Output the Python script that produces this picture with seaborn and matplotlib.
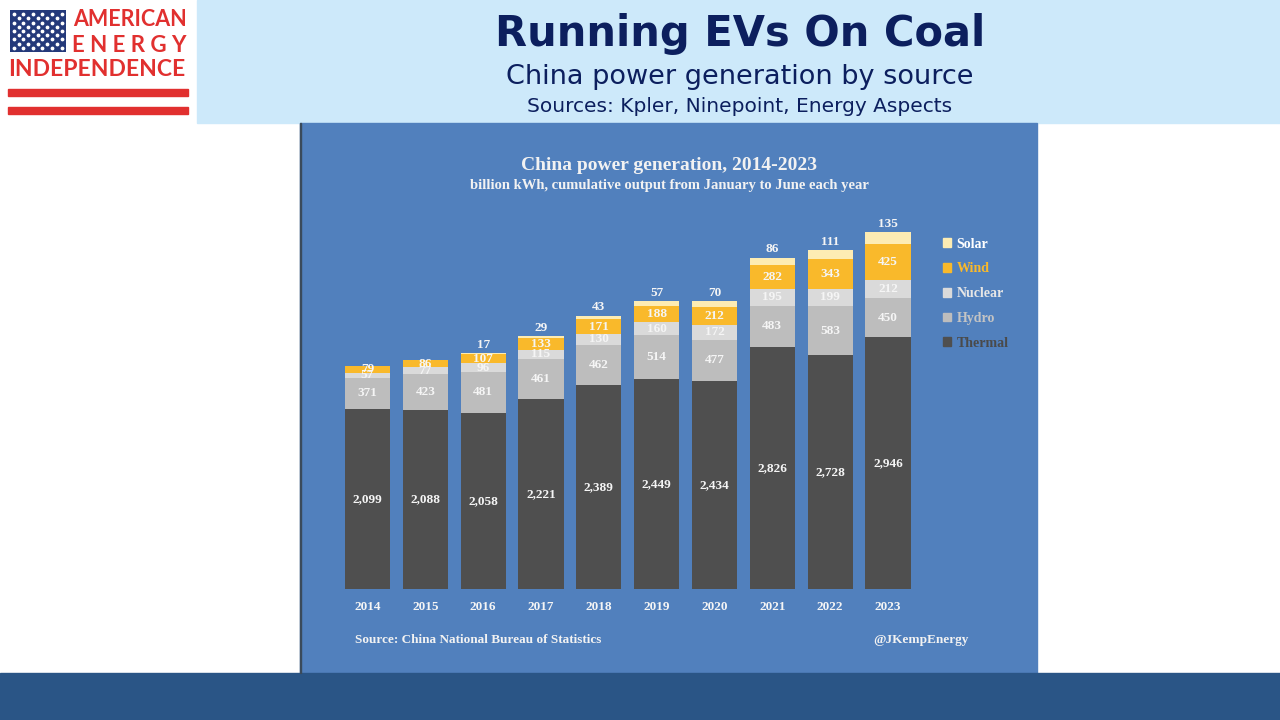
import numpy as np
import pandas as pd
import seaborn as sns
import matplotlib.pyplot as plt
from matplotlib.patches import Rectangle, Patch

# China power generation, Jan-Jun each year, billion kWh
years = ["2014", "2015", "2016", "2017", "2018", "2019", "2020", "2021", "2022", "2023"]
thermal = [2099, 2088, 2058, 2221, 2389, 2449, 2434, 2826, 2728, 2946]
hydro = [371, 423, 481, 461, 462, 514, 477, 483, 583, 450]
nuclear = [57, 77, 96, 115, 130, 160, 172, 195, 199, 212]
wind = [79, 86, 107, 133, 171, 188, 212, 282, 343, 425]
solar = [0, 0, 17, 29, 43, 57, 70, 86, 111, 135]

sources = ["Thermal", "Hydro", "Nuclear", "Wind", "Solar"]
colors = {"Thermal": "#4f4f4f", "Hydro": "#bdbdbd", "Nuclear": "#dadada",
          "Wind": "#f9b92b", "Solar": "#fdecb3"}
text_colors = {"Thermal": "#4a4a4a", "Hydro": "#c4c4c4", "Nuclear": "#e6e6e6",
               "Wind": "#f9b92b", "Solar": "#ffffff"}

df = pd.DataFrame({"year": years, "Thermal": thermal, "Hydro": hydro,
                   "Nuclear": nuclear, "Wind": wind, "Solar": solar})
cum = df[sources].cumsum(axis=1)
cum["year"] = years

W, H = 1280, 720
fig = plt.figure(figsize=(12.8, 7.2), dpi=100)
fig.patch.set_facecolor("white")

def px(x, y, w, h):
    return [x / W, 1 - (y + h) / H, w / W, h / H]

# header band, chart panel, footer band (behind the axes)
fig.patches.append(Rectangle((197 / W, 1 - 123 / H), (W - 197) / W, 123 / H,
                             transform=fig.transFigure, color="#cde9fa", zorder=-2))
fig.patches.append(Rectangle((300 / W, 1 - 673 / H), 737 / W, 550 / H,
                             transform=fig.transFigure, color="#5180bd", zorder=-2))
fig.patches.append(Rectangle((299.5 / W, 1 - 673 / H), 1.2 / W, 550 / H,
                             transform=fig.transFigure, color="#3a4a5a", zorder=-1))
fig.patches.append(Rectangle((0, 0), 1, 47 / H,
                             transform=fig.transFigure, color="#2a5586", zorder=-2))

# header text
fig.text(740 / W, 1 - 34 / H, "Running EVs On Coal", ha="center", va="center",
         fontsize=30, fontweight="bold", color="#0c1f5e", family="DejaVu Sans")
fig.text(740 / W, 1 - 77 / H, "China power generation by source", ha="center", va="center",
         fontsize=19.5, color="#0c1f5e", family="DejaVu Sans")
fig.text(740 / W, 1 - 106 / H, "Sources: Kpler, Ninepoint, Energy Aspects", ha="center",
         va="center", fontsize=14.5, color="#0c1f5e", family="DejaVu Sans")

# logo
flag = fig.add_axes(px(10, 10, 56, 42))
flag.set_facecolor("#24397a")
gx, gy = np.meshgrid(np.arange(6), np.arange(5))
flag.scatter(gx.ravel() * 0.17 + 0.07, gy.ravel() * 0.2 + 0.1, s=3, color="white")
flag.scatter(gx[:4, :5].ravel() * 0.17 + 0.155, gy[:4, :5].ravel() * 0.2 + 0.2, s=3, color="white")
flag.set_xlim(0, 1)
flag.set_ylim(0, 1)
flag.set_xticks([])
flag.set_yticks([])
for s in flag.spines.values():
    s.set_visible(False)
red = "#e1302f"
fig.text(187 / W, 1 - 20 / H, "AMERICAN", ha="right", va="center", fontsize=15.5,
         fontweight="bold", color=red, family="Lato")
fig.text(187 / W, 1 - 45 / H, "E N E R G Y", ha="right", va="center", fontsize=16,
         fontweight="bold", color=red, family="Lato")
fig.text(8 / W, 1 - 70 / H, "INDEPENDENCE", ha="left", va="center", fontsize=16.5,
         fontweight="bold", color=red, family="Lato")
fig.patches.append(Rectangle((8 / W, 1 - 96 / H), 180 / W, 7 / H,
                             transform=fig.transFigure, color=red))
fig.patches.append(Rectangle((8 / W, 1 - 114 / H), 180 / W, 7 / H,
                             transform=fig.transFigure, color=red))

# chart axes
ax = fig.add_axes(px(300, 123, 737, 466))
ax.set_facecolor("none")
for name in reversed(sources):
    sns.barplot(data=cum, x="year", y=name, color=colors[name], width=0.78,
                saturation=1, errorbar=None, linewidth=0, ax=ax)

serif = "Liberation Serif"
label_col = "#f5f5f5"
for i in range(len(years)):
    base = 0
    for name in sources:
        v = df[name][i]
        if name == "Solar":
            if v > 0:
                ax.text(i, cum["Solar"][i] + 25, str(v), ha="center", va="bottom",
                        fontsize=9.5, fontweight="bold", color=label_col, family=serif)
        else:
            ax.text(i, base + v / 2, f"{v:,}", ha="center", va="center",
                    fontsize=9.5, fontweight="bold", color=label_col, family=serif)
        base += v

ax.set_xlim(-1.167, 11.577)
ax.set_ylim(0, 466 / 0.0856)
ax.set_xlabel("")
ax.set_ylabel("")
ax.set_yticks([])
ax.tick_params(axis="x", length=0, pad=9, labelcolor=label_col)
for lab in ax.get_xticklabels():
    lab.set_fontfamily(serif)
    lab.set_fontweight("bold")
    lab.set_fontsize(9.5)
for s in ax.spines.values():
    s.set_visible(False)

# panel titles and notes
fig.text(669 / W, 1 - 165 / H, "China power generation, 2014-2023", ha="center", va="center",
         fontsize=14, fontweight="bold", color="#f2f2f2", family=serif)
fig.text(669 / W, 1 - 185 / H, "billion kWh, cumulative output from January to June each year",
         ha="center", va="center", fontsize=10.5, fontweight="bold", color="#f2f2f2", family=serif)
fig.text(355 / W, 1 - 640 / H, "Source: China National Bureau of Statistics", ha="left",
         va="center", fontsize=9.5, fontweight="bold", color="#f2f2f2", family=serif)
fig.text(969 / W, 1 - 640 / H, "@JKempEnergy", ha="right", va="center",
         fontsize=9.5, fontweight="bold", color="#f2f2f2", family=serif)

# legend
handles = [Patch(color=colors[n], label=n) for n in reversed(sources)]
leg = fig.legend(handles=handles, loc="upper left", bbox_to_anchor=(930 / W, 1 - 225 / H),
                 frameon=False, handlelength=0.6, handleheight=0.6, handletextpad=0.4,
                 labelspacing=0.85, prop={"family": serif, "weight": "bold", "size": 10},
                 labelcolor=[text_colors[n] for n in reversed(sources)])

fig.savefig("out.png", dpi=100)
